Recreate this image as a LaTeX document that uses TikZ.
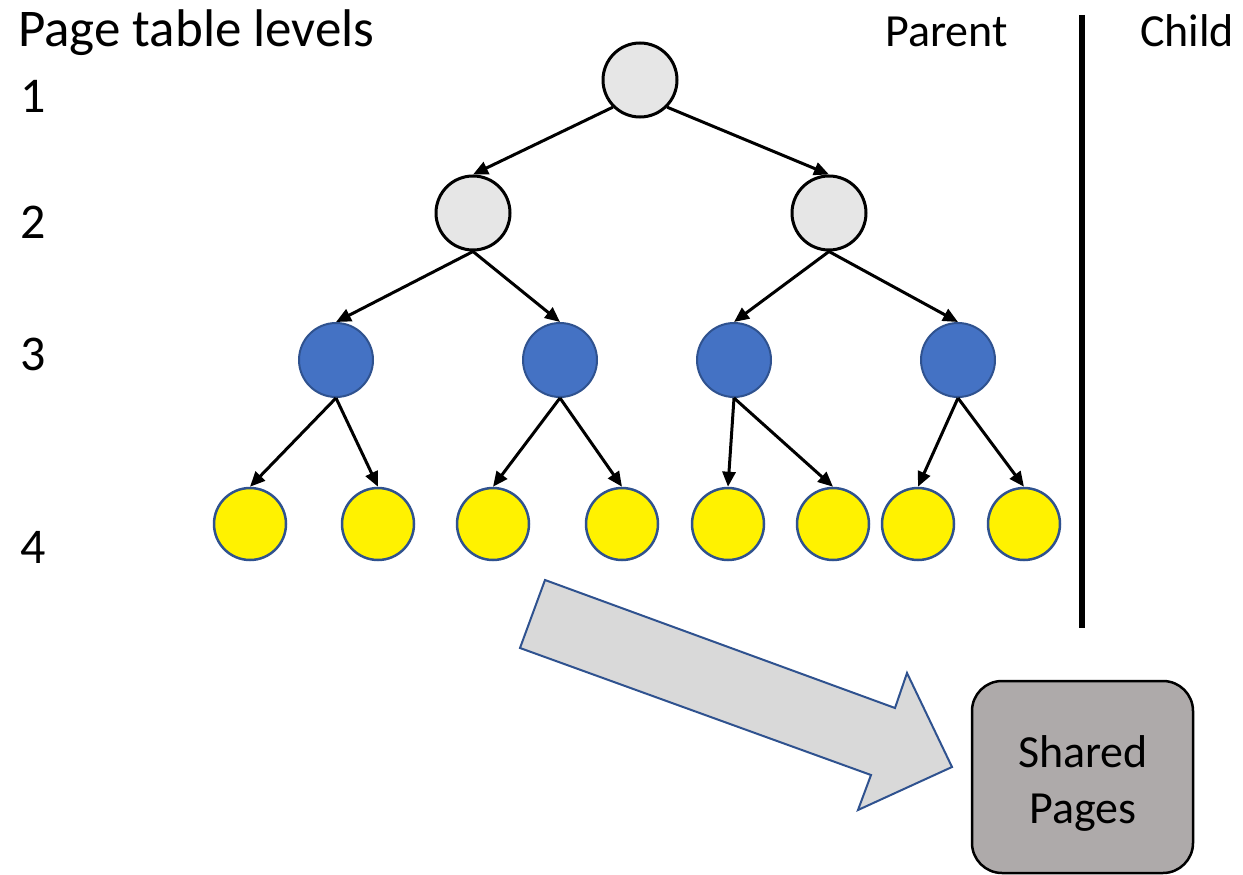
\documentclass[tikz,border=0pt]{standalone}
\usepackage{fontspec}
\setmainfont{Carlito}
\usetikzlibrary{arrows.meta}
\definecolor{nodegray}{HTML}{E6E6E6}
\definecolor{nodeblue}{HTML}{4472C4}
\definecolor{edgeblue}{HTML}{2F528F}
\definecolor{arrowgray}{HTML}{D9D9D9}
\definecolor{boxgray}{HTML}{AEAAAA}
\begin{document}
\begin{tikzpicture}[x=1pt,y=-1pt,
  lvltext/.style={font=\fontsize{50}{60}\selectfont,inner sep=0pt},
  sidetext/.style={font=\fontsize{46}{56}\selectfont,inner sep=0pt},
  ptnode/.style={circle,minimum size=74pt,inner sep=0pt},
  upper/.style={ptnode,fill=nodegray,draw=black,line width=3pt},
  mid/.style={ptnode,fill=nodeblue,draw=edgeblue,line width=2pt},
  leaf/.style={ptnode,minimum size=72pt,fill=yellow,draw=edgeblue,line width=2.5pt},
  link/.style={line width=3pt,-{Triangle[length=15pt,width=13pt]}}]
\useasboundingbox (0,0) rectangle (1243,875);

% level labels
\node[lvltext,font=\fontsize{53}{60}\selectfont,anchor=base west] (title) at (18,47) {Page table levels};
\node[lvltext,anchor=base west] (l1) at (20,112) {1};
\node[lvltext,anchor=base west] (l2) at (20,238) {2};
\node[lvltext,anchor=base west] (l3) at (20,370) {3};
\node[lvltext,anchor=base west] (l4) at (20,563) {4};

% parent / child split
\node[sidetext,anchor=base west] (parent) at (885,47) {Parent};
\node[sidetext,anchor=base west] (child) at (1140,47) {Child};
\coordinate (divtop) at (1082,15);
\coordinate (divbot) at (1082,628);
\draw[line width=6pt] (divtop) -- (divbot);

% tree nodes
\node[upper] (a) at (640,80) {};
\node[upper] (b1) at (473,213) {};
\node[upper] (b2) at (829,213) {};
\node[mid] (c1) at (336,360) {};
\node[mid] (c2) at (560,360) {};
\node[mid] (c3) at (734,360) {};
\node[mid] (c4) at (958,360) {};
\node[leaf] (d1) at (250,524) {};
\node[leaf] (d2) at (378,524) {};
\node[leaf] (d3) at (493,524) {};
\node[leaf] (d4) at (622,524) {};
\node[leaf] (d5) at (728,524) {};
\node[leaf] (d6) at (833,524) {};
\node[leaf] (d7) at (918,524) {};
\node[leaf] (d8) at (1024,524) {};

% tree links
\draw[link] (a.225) -- (b1.north);
\draw[link] (a.-45) -- (b2.north);
\draw[link] (b1.south) -- (c1.north);
\draw[link] (b1.south) -- (c2.north);
\draw[link] (b2.south) -- (c3.north);
\draw[link] (b2.south) -- (c4.north);
\draw[link] (c1.south) -- (d1.north);
\draw[link] (c1.south) -- (d2.north);
\draw[link] (c2.south) -- (d3.north);
\draw[link] (c2.south) -- (d4.north);
\draw[link] (c3.south) -- (d5.north);
\draw[link] (c3.south) -- (d6.north);
\draw[link] (c4.south) -- (d7.north);
\draw[link] (c4.south) -- (d8.north);

% shared pages box
\node[draw=black,line width=2.5pt,fill=boxgray,rounded corners=30pt,
      minimum width=221pt,minimum height=192pt,inner sep=0pt] (shared) at (1082.5,777) {};
\node[sidetext,align=center] (sharedtext) at (1083,783) {Shared\\Pages};

% block arrow towards the shared pages
\draw[fill=arrowgray,draw=edgeblue,line width=2pt,line join=miter]
  (545,580) -- (895,708) -- (907,673) -- (952,767) -- (858,810)
  -- (871,775) -- (520,648) -- cycle;
\end{tikzpicture}
\end{document}
